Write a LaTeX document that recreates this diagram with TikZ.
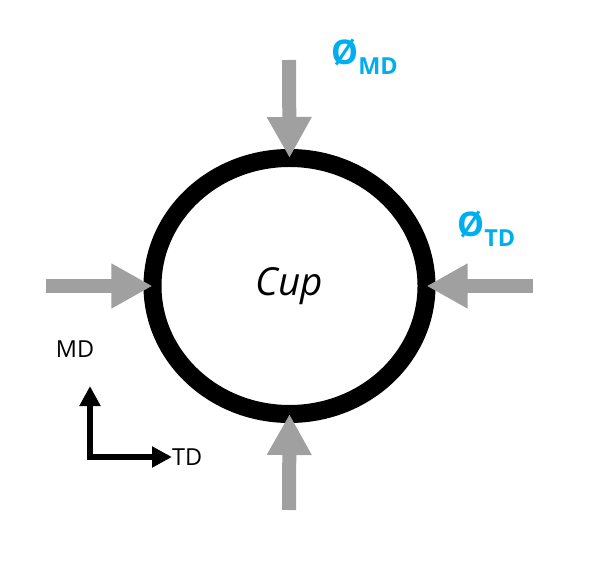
\documentclass[tikz,border=0pt]{standalone}
\usepackage{fontspec}
\setmainfont{Open Sans}
\usetikzlibrary{shapes.geometric,arrows.meta,positioning}
\definecolor{pushgray}{HTML}{A0A0A0}
\definecolor{dimblue}{HTML}{00AEEF}

\begin{document}
\begin{tikzpicture}[x=0.03cm, y=-0.03cm,
  cupring/.style={ellipse, draw=black, line width=0.54cm, minimum width=8.22cm, minimum height=7.68cm, inner sep=0pt, outer sep=0pt, font=\fontsize{33}{36}\selectfont\itshape},
  push/.style={draw=pushgray, line width=0.42cm, -{Triangle[length=1.23cm, width=1.26cm]}},
  dirarrow/.style={draw=black, line width=0.195cm, {Triangle[length=0.6cm, width=0.6cm]}-{Triangle[length=0.6cm, width=0.6cm]}},
  dimlabel/.style={text=dimblue, font=\fontsize{29}{30}\selectfont\bfseries, inner sep=0pt, anchor=base west},
  axlabel/.style={font=\fontsize{20}{22}\selectfont, inner sep=0pt}
]
\useasboundingbox (0,0) rectangle (590,571);

% cup outline
\node[cupring] (cup) at (289.5,286) {Cup};

% pushing arrows
\coordinate (topstart) at (289,60);
\coordinate (botstart) at (289,510);
\coordinate (leftstart) at (46,286);
\coordinate (rightstart) at (533,286);
\draw[push] (topstart) -- (cup.north);
\draw[push] (botstart) -- (cup.south);
\draw[push] (leftstart) -- (cup.west);
\draw[push] (rightstart) -- (cup.east);

% diameter labels
\node[dimlabel] (phimd) at (331,65) {Ø\raisebox{-8pt}{\fontsize{20}{20}\selectfont MD}};
\node[dimlabel] (phitd) at (457,237) {Ø\raisebox{-8pt}{\fontsize{20}{20}\selectfont TD}};

% direction axes
\coordinate (axmd) at (90,386);
\coordinate (axo) at (90,457);
\coordinate (axtd) at (172,457);
\draw[dirarrow] (axmd) -- (axo) -- (axtd);
\node[axlabel] (mdlabel) at (75,349) {MD};
\node[axlabel, right=0pt of axtd] (tdlabel) {TD};
\end{tikzpicture}
\end{document}
